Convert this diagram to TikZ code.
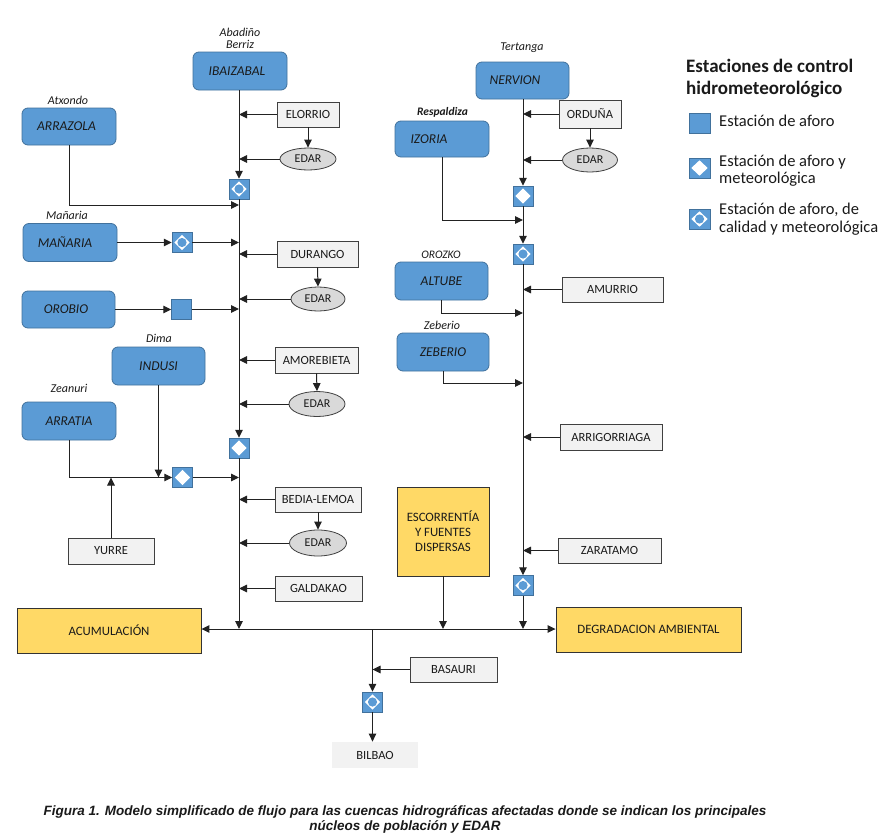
\documentclass[tikz,border=0pt]{standalone}
\usepackage{fontspec}
\setmainfont{Carlito}
\newfontfamily\capfont{Liberation Sans}
\usetikzlibrary{arrows.meta,shapes.geometric}
\definecolor{bluef}{HTML}{5B9BD5}
\definecolor{blued}{HTML}{41719C}
\definecolor{grayf}{HTML}{F2F2F2}
\definecolor{edarf}{HTML}{D9D9D9}
\definecolor{yelf}{HTML}{FFD966}
\definecolor{linec}{HTML}{222222}
\definecolor{txt}{HTML}{1A1A1A}
\begin{document}
\begin{tikzpicture}[x=1pt,y=-1pt,
  every node/.style={inner sep=0pt, text=txt},
  river/.style={rectangle, rounded corners=6pt, fill=bluef, draw=blued, line width=0.8pt, font=\fontsize{13.5}{16}\selectfont\itshape},
  town/.style={rectangle, fill=grayf, draw=black!75, line width=0.8pt, font=\fontsize{12.5}{15}\selectfont},
  edar/.style={ellipse, fill=edarf, draw=black!75, line width=0.8pt, font=\fontsize{12}{14}\selectfont},
  result/.style={rectangle, fill=yelf, draw=black!80, line width=0.9pt, font=\fontsize{12.8}{15}\selectfont, align=center},
  place/.style={font=\fontsize{12}{14}\selectfont\itshape},
  st/.style={rectangle, minimum width=20pt, minimum height=20pt, fill=bluef, draw=blued, line width=0.5pt},
  stm/.style={st, path picture={\fill[white] ([yshift=-2.3pt]path picture bounding box.north) -- ([xshift=-2.3pt]path picture bounding box.east) -- ([yshift=2.3pt]path picture bounding box.south) -- ([xshift=2.3pt]path picture bounding box.west) -- cycle;}},
  stq/.style={st, path picture={\fill[white] ([yshift=-2.3pt]path picture bounding box.north) -- ([xshift=-2.3pt]path picture bounding box.east) -- ([yshift=2.3pt]path picture bounding box.south) -- ([xshift=2.3pt]path picture bounding box.west) -- cycle; \fill[bluef] (path picture bounding box.center) circle[radius=4.6pt];}},
  arr/.style={draw=linec, line width=1pt, -{Triangle[length=8pt,width=7.5pt]}},
  legtxt/.style={font=\fontsize{16.5}{18}\selectfont, anchor=base west},
  legtit/.style={font=\fontsize{19}{22}\selectfont\bfseries, anchor=base west},
  captxt/.style={font=\capfont\fontsize{13.5}{15}\selectfont\bfseries\itshape, anchor=base},
]
\useasboundingbox[fill=white] (0,0) rectangle (886,838);

% ---------- rivers (blue boxes)
\node[river, minimum width=94pt, minimum height=38pt] (ibai) at (240,71) {\kern-6pt IBAIZABAL};
\node[river, minimum width=94pt, minimum height=37pt] (arra) at (69,126.5) {\kern-5pt ARRAZOLA};
\node[river, minimum width=94pt, minimum height=38pt] (manaria) at (70,242.5) {\kern-10pt MAÑARIA};
\node[river, minimum width=93pt, minimum height=37pt] (orobio) at (68.5,309.5) {\kern-5pt OROBIO};
\node[river, minimum width=93pt, minimum height=38pt] (indusi) at (158.5,366) {INDUSI};
\node[river, minimum width=94pt, minimum height=38pt] (arratia) at (69,421) {ARRATIA};
\node[river, minimum width=93pt, minimum height=37pt] (nervion) at (522.5,80.5) {\kern-15pt NERVION};
\node[river, minimum width=94pt, minimum height=36pt] (izoria) at (442,139) {\kern-26pt IZORIA};
\node[river, minimum width=93pt, minimum height=38pt] (altube) at (441.5,281) {ALTUBE};
\node[river, minimum width=92pt, minimum height=38pt] (zeberio) at (443,352) {ZEBERIO};

% ---------- place labels
\node[place] (lab) at (240,32) {Abadiño};
\node[place] (lber) at (240,44.5) {Berriz};
\node[place] (latx) at (68,100.5) {Atxondo};
\node[place] (lman) at (67,215) {Mañaria};
\node[place] (ldim) at (159,338.5) {Dima};
\node[place] (lzea) at (69,388) {Zeanuri};
\node[place] (lter) at (522,47.5) {Tertanga};
\node[place, font=\fontsize{11.5}{13}\selectfont\bfseries\itshape] (lres) at (442.5,112) {Respaldiza};
\node[place, font=\fontsize{11.5}{13}\selectfont\itshape] (loro) at (441,254.5) {OROZKO};
\node[place] (lzeb) at (442,325.5) {Zeberio};

% ---------- towns
\node[town, minimum width=62pt, minimum height=25pt] (elorrio) at (308,114.5) {ELORRIO};
\node[town, minimum width=81pt, minimum height=26pt] (durango) at (317.5,254) {DURANGO};
\node[town, minimum width=83pt, minimum height=26pt] (amore) at (316.5,360) {AMOREBIETA};
\node[town, minimum width=86pt, minimum height=25pt] (bedia) at (318,499.5) {BEDIA-LEMOA};
\node[town, minimum width=87pt, minimum height=25pt] (galda) at (318.5,588.5) {GALDAKAO};
\node[town, minimum width=86pt, minimum height=26pt] (yurre) at (111,551) {YURRE};
\node[town, minimum width=62pt, minimum height=28pt] (orduna) at (590,114) {ORDUÑA};
\node[town, minimum width=101pt, minimum height=25pt] (amurrio) at (612.5,289.5) {AMURRIO};
\node[town, minimum width=102pt, minimum height=26pt] (arrig) at (611,437) {ARRIGORRIAGA};
\node[town, minimum width=103pt, minimum height=25pt] (zarat) at (609.5,550.5) {ZARATAMO};
\node[town, minimum width=87pt, minimum height=25pt] (basauri) at (453.5,669.5) {BASAURI};
\node[town, draw=none, minimum width=86pt, minimum height=26pt] (bilbao) at (375,755) {BILBAO};

% ---------- EDAR
\node[edar, minimum width=56pt, minimum height=22pt] (edar1) at (308,159) {EDAR};
\node[edar, minimum width=54pt, minimum height=24pt] (edar2) at (318,299) {EDAR};
\node[edar, minimum width=56pt, minimum height=25pt] (edar3) at (317,404) {EDAR};
\node[edar, minimum width=57pt, minimum height=26pt] (edar4) at (318,543) {EDAR};
\node[edar, minimum width=55pt, minimum height=24pt] (edar5) at (590,160) {EDAR};

% ---------- results
\node[result, minimum width=184pt, minimum height=45pt] (acum) at (109,630.5) {ACUMULACIÓN};
\node[result, minimum width=185pt, minimum height=45pt] (degr) at (648.5,629.5) {DEGRADACION AMBIENTAL};
\node[result, minimum width=92pt, minimum height=89pt] (escorr) at (443,531.5) {ESCORRENTÍA\\Y FUENTES\\DISPERSAS};

% ---------- stations
\node[stq] (s1) at (239,189) {};
\node[stq] (s2) at (182,242.5) {};
\node[st]  (s3) at (181.5,309) {};
\node[stm] (s4) at (239,448) {};
\node[stm] (s5) at (182.5,477.5) {};
\node[stm] (r1) at (523,196) {};
\node[stq] (r2) at (523,254) {};
\node[stq] (r3) at (523,585.5) {};
\node[stq] (b1) at (372.5,702) {};

% ---------- junction coordinates
\coordinate (jA) at (239,205);
\coordinate (jBL) at (239,629);
\coordinate (jBR) at (523,629);
\coordinate (jBB) at (372.5,629);
\coordinate (jE) at (443,629);
\coordinate (jIz) at (523,220);
\coordinate (jAl) at (523,313);
\coordinate (jZe) at (523,383);

% ---------- left main stream
\draw[arr] (ibai.south -| s1) -- (s1.north);
\draw[arr] (s1.south) -- (s4.north);
\draw[arr] (s4.south) -- (jBL);
\draw[arr] (elorrio.west) -- (elorrio.west -| s1);
\draw[arr] (elorrio.south) -- (edar1.north);
\draw[arr] (edar1.west) -- (edar1.west -| s1);
\draw[arr] (arra.south) |- (jA);
\draw[arr] (manaria.east) -- (s2.west);
\draw[arr] (s2.east) -- (s2.east -| s1);
\draw[arr] (durango.west) -- (durango.west -| s1);
\draw[arr] (durango.south) -- (edar2.north);
\draw[arr] (edar2.west) -- (edar2.west -| s1);
\draw[arr] (orobio.east) -- (orobio.east -| s3.west);
\draw[arr] (s3.east) -- (s3.east -| s1);
\draw[arr] (amore.west) -- (amore.west -| s1);
\draw[arr] (amore.south) -- (edar3.north);
\draw[arr] (edar3.west) -- (edar3.west -| s1);
\draw[arr] (indusi.south) -- (indusi.south |- s5.west);
\draw[arr] (arratia.south) |- (s5.west);
\draw[arr] (yurre.north) -- (yurre.north |- s5.west);
\draw[arr] (s5.east) -- (s5.east -| s4);
\draw[arr] (bedia.west) -- (bedia.west -| s4);
\draw[arr] (bedia.south) -- (edar4.north);
\draw[arr] (edar4.west) -- (edar4.west -| s4);
\draw[arr] (galda.west) -- (galda.west -| s4);

% ---------- right main stream
\draw[arr] (nervion.south -| r1) -- (r1.north);
\draw[arr] (r1.south) -- (r2.north);
\draw[arr] (r2.south) -- (r3.north);
\draw[arr] (r3.south) -- (jBR);
\draw[arr] (orduna.west) -- (orduna.west -| r1);
\draw[arr] (orduna.south) -- (edar5.north);
\draw[arr] (edar5.west) -- (edar5.west -| r1);
\draw[arr] (izoria.south) |- (jIz);
\draw[arr] (altube.south) |- (jAl);
\draw[arr] (zeberio.south) |- (jZe);
\draw[arr] (amurrio.west) -- (amurrio.west -| r2);
\draw[arr] (arrig.west) -- (arrig.west -| r2);
\draw[arr] (zarat.west) -- (zarat.west -| r2);

% ---------- bus and outlet
\draw[arr] (jBR) -- (acum.east |- jBR);
\draw[arr] (jBR) -- (degr.west |- jBR);
\draw[arr] (escorr.south) -- (jE);
\draw[arr] (jBB) -- (b1.north);
\draw[arr] (basauri.west) -- (basauri.west -| b1);
\draw[arr] (b1.south) -- (b1.south |- bilbao.north);

% ---------- legend
\node[legtit] (lgt1) at (686,72) {Estaciones de control};
\node[legtit] (lgt2) at (686,94) {hidrometeorológico};
\node[st, minimum width=21pt] (lg1) at (699.5,123) {};
\node[stm, minimum width=21pt] (lg2) at (699.5,168) {};
\node[stq, minimum width=21pt] (lg3) at (699.5,219) {};
\node[legtxt] (lgx1) at (719,126) {Estación de aforo};
\node[legtxt] (lgx2a) at (719,166) {Estación de aforo y};
\node[legtxt] (lgx2b) at (719,183) {meteorológica};
\node[legtxt] (lgx3a) at (719,214) {Estación de aforo, de};
\node[legtxt] (lgx3b) at (719,232) {calidad y meteorológica};

% ---------- caption
\node[captxt] (cap1) at (405,815) {Figura 1. Modelo simplificado de flujo para las cuencas hidrográficas afectadas donde se indican los principales};
\node[captxt] (cap2) at (405,830) {núcleos de población y EDAR};
\end{tikzpicture}
\end{document}
